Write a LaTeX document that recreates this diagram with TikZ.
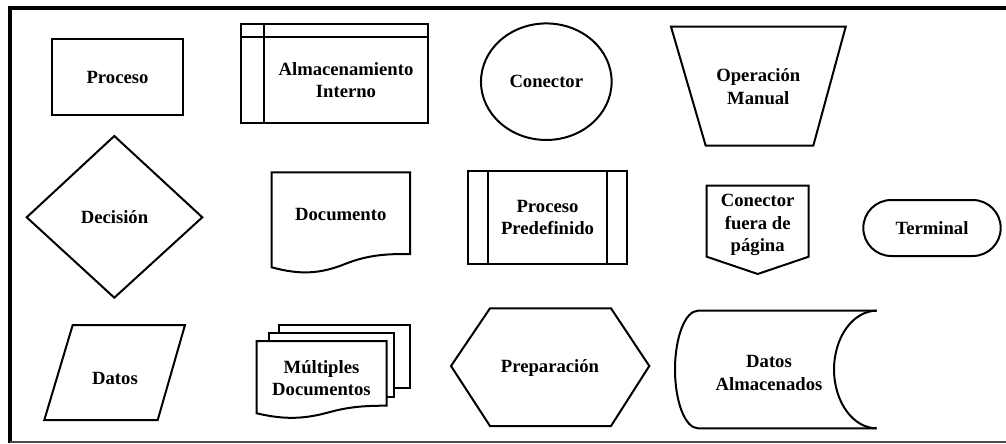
\documentclass[tikz,border=0pt]{standalone}
\usepackage{fontspec}
\setmainfont{Liberation Serif}
\begin{document}
\begin{tikzpicture}[x=0.75pt,y=-0.75pt,line join=miter,
  shp/.style={draw=black,line width=1.5pt,fill=white},
  lbl/.style={font=\fontsize{14}{17}\selectfont\bfseries,align=center,inner sep=0pt}]
\useasboundingbox (0,0) rectangle (1006,443);
\fill[white] (0,0) rectangle (1006,443);
% frame
\draw[line width=3pt] (9.5,443) -- (9.5,8) -- (1006,8);
\draw[line width=1.1pt,draw=black!70] (9.5,441.8) -- (1006,441.8);

% Proceso
\draw[shp] (52,39) rectangle (183,115);
\node[lbl] (proceso) at (117.5,77) {Proceso};

% Almacenamiento interno
\draw[shp] (240.7,24) rectangle (428,123);
\draw[shp] (264.3,24) -- (264.3,123);
\draw[shp] (240.7,37) -- (428,37);
\node[lbl] (almac) at (346,80) {Almacenamiento\\Interno};

% Conector
\draw[shp] (546.3,81.7) ellipse [x radius=49pt,y radius=43.7pt];
\node[lbl] (conector) at (546.3,81.7) {Conector};

% Operacion manual
\draw[shp] (671,26.7) -- (845.7,26.7) -- (813.3,145.7) -- (705.7,145.7) -- cycle;
\node[lbl] (opman) at (758.3,86.3) {Operación\\Manual};

% Decision
\draw[shp] (114.3,136) -- (202.3,217.3) -- (114.3,297.7) -- (26.7,217.3) -- cycle;
\node[lbl] (decision) at (114.5,217.3) {Decisión};

% Documento
\draw[shp] (271.7,267.3) -- (271.7,172.3) -- (410,172.3) -- (410,254)
  .. controls (390,254) and (370,254) .. (345,264)
  .. controls (320,274) and (300,275) .. (271.7,267.3) -- cycle;
\node[lbl] (documento) at (340.8,214) {Documento};

% Proceso predefinido
\draw[shp] (468.3,170.7) rectangle (626.7,264);
\draw[shp] (488.3,170.7) -- (488.3,264);
\draw[shp] (606.7,170.7) -- (606.7,264);
\node[lbl] (predef) at (547.5,217.5) {Proceso\\Predefinido};

% Conector fuera de pagina
\draw[shp] (706.7,185.7) -- (808.7,185.7) -- (808.7,256.7) -- (757.7,274) -- (706.7,256.7) -- cycle;
\node[lbl] (offpage) at (757.7,225) {Conector\\fuera de\\página};

% Terminal
\draw[shp,rounded corners=21pt] (863.3,200) rectangle (1000.7,256);
\node[lbl] (terminal) at (932,228.5) {Terminal};

% Datos
\draw[shp] (72.7,325) -- (185,325) -- (157.7,420) -- (44.3,420) -- cycle;
\node[lbl] (datos) at (115,378) {Datos};

% Multiples documentos
\draw[shp] (279.3,325) rectangle (410,388.3);
\draw[shp] (269.3,332.7) rectangle (394.3,396.7);
\draw[shp] (256.7,413.3) -- (256.7,341) -- (386.7,341) -- (386.7,405.7)
  .. controls (370,405.7) and (352,406) .. (330,412)
  .. controls (305,419) and (285,420) .. (256.7,413.3) -- cycle;
\node[lbl] (multdoc) at (321.5,378) {Múltiples\\Documentos};

% Preparacion
\draw[shp] (451,366) -- (490,308.3) -- (611,308.3) -- (649.3,366) -- (611,426) -- (490,426) -- cycle;
\node[lbl] (prep) at (550,368) {Preparación};

% Datos almacenados
\draw[shp] (876.7,310.7) -- (698,310.7) arc[start angle=90,end angle=270,x radius=17.25pt,y radius=44.1pt] -- (876.7,428.3);
\draw[shp] (876.7,310.7) arc[start angle=90,end angle=270,x radius=32pt,y radius=44.1pt];
\node[lbl] (datalm) at (769,373) {Datos\\Almacenados};
\end{tikzpicture}
\end{document}
